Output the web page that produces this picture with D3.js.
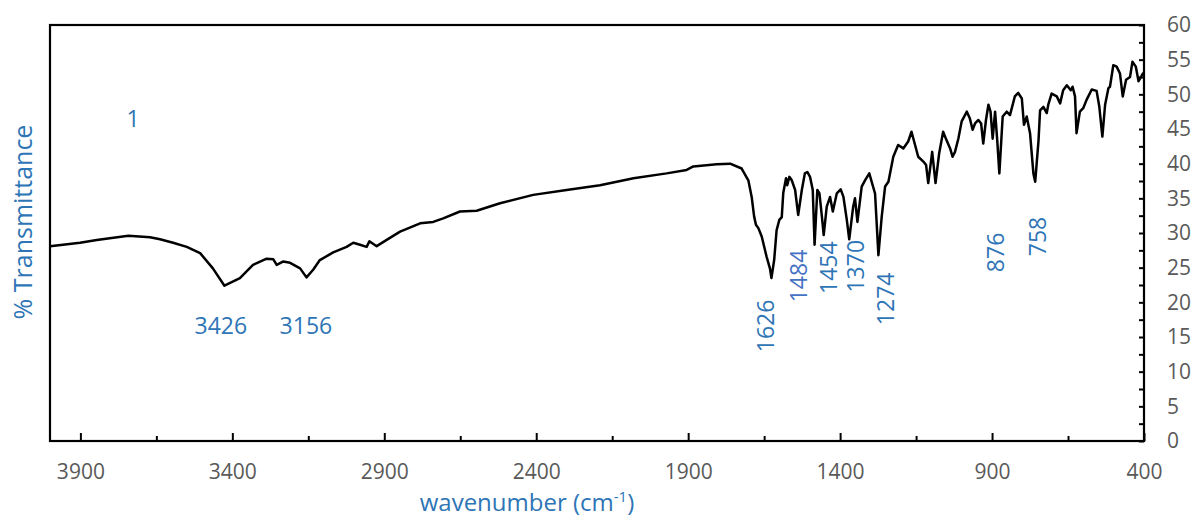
<!DOCTYPE html>
<html>
<head>
<meta charset="utf-8">
<script src="https://cdn.jsdelivr.net/npm/d3@7"></script>
<style>
  body { margin: 0; background: #fff; }
  text { font-family: "Open Sans", sans-serif; }
</style>
</head>
<body>
<script>
// traced IR spectrum (wavenumber in cm-1, % transmittance)
var wavenumber = [4000,3901,3846,3742,3671,3638,3595,3550,3506,3464,
  3426,3375,3332,3287,3265,3254,3232,3210,3177,3156,
  3134,3112,3068,3024,3002,2980,2958,2949,2925,2892,
  2848,2782,2739,2706,2651,2596,2519,2410,2300,2190,
  2080,1971,1905,1883,1806,1762,1724,1702,1691,1683,
  1677,1669,1658,1642,1631,1626,1617,1609,1600,1592,
  1587,1578,1574,1567,1559,1548,1538,1526,1516,1508,
  1499,1490,1484,1475,1468,1460,1454,1444,1433,1424,
  1411,1398,1389,1378,1370,1357,1351,1343,1329,1318,
  1304,1293,1285,1274,1263,1252,1241,1225,1209,1192,
  1176,1165,1143,1126,1117,1110,1097,1086,1074,1061,
  1050,1038,1030,1022,1011,1000,983,973,964,956,
  945,936,929,920,912,905,898,890,883,876,
  865,852,841,825,814,802,795,786,775,764,
  758,747,742,731,720,715,704,687,676,666,
  654,641,635,627,622,611,600,589,572,556,
  547,537,528,517,512,501,490,479,470,459,
  446,438,427,418,410,404,400];

var transmittance = [28.1,28.6,29.0,29.6,29.4,29.1,28.6,28.0,27.1,24.9,
  22.4,23.5,25.4,26.3,26.2,25.4,25.9,25.7,24.9,23.6,
  24.7,26.1,27.2,28.0,28.6,28.3,28.0,28.8,28.1,29.0,
  30.2,31.4,31.6,32.1,33.1,33.2,34.3,35.5,36.2,36.9,
  37.9,38.6,39.1,39.6,39.9,40.0,39.3,37.6,35.2,32.4,
  31.2,30.7,29.5,26.6,24.9,23.5,26.1,30.4,31.9,32.3,
  35.8,37.9,36.9,38.1,37.6,36.2,32.6,36.2,38.6,38.8,
  38.1,36.2,28.3,36.2,35.7,32.4,29.7,33.8,35.2,33.1,
  35.7,36.3,35.2,31.9,29.1,33.8,35.0,31.6,36.7,37.6,
  38.6,36.9,35.7,26.8,32.4,36.7,37.4,41.0,42.7,42.2,
  43.2,44.6,41.0,40.3,39.8,37.2,41.7,37.2,41.5,44.6,
  43.4,42.2,41.0,41.7,43.6,46.1,47.5,46.5,44.9,45.8,
  46.3,45.8,42.9,46.3,48.5,47.5,43.6,47.5,43.4,38.6,
  46.8,47.5,47.0,49.7,50.2,49.4,45.6,46.8,44.4,38.6,
  37.4,43.4,47.7,48.2,47.3,48.5,50.1,49.7,48.7,50.6,
  51.3,50.6,51.1,49.7,44.4,47.5,48.0,49.2,50.7,50.5,
  48.2,43.9,48.5,50.9,51.1,54.2,54.0,53.0,49.7,52.1,
  52.5,54.7,54.0,51.9,52.5,53.0,52.8];

var xTicks = [3900, 3400, 2900, 2400, 1900, 1400, 900, 400];
var xMinorTicks = [3650, 3150, 2650, 2150, 1650, 1150, 650];
var yTicks = [0, 5, 10, 15, 20, 25, 30, 35, 40, 45, 50, 55, 60];
var yMinorTicks = [2.5, 7.5, 12.5, 17.5, 22.5, 27.5, 32.5, 37.5, 42.5, 47.5, 52.5, 57.5];

// peak annotations: text, where the label sits (wavenumber, %T), rotated or not
var peakText = ["3426", "3156", "1626", "1484", "1454", "1370", "1274", "876", "758"];
var peakLabelWn = [3438, 3158, 1647, 1538, 1439, 1351, 1252, 890, 753];
var peakLabelT = [16.7, 16.7, 16.6, 23.8, 25.0, 25.2, 20.5, 27.2, 29.5];
var peakRotated = [false, false, true, true, true, true, true, true, true];

var W = 1197, H = 523;
var plotL = 50, plotR = 1144, plotT = 25, plotB = 441;
var blue = "#2E75B6", grey = "#595959";

var x = d3.scaleLinear().domain([4000, 400]).range([plotL, plotR]);
var y = d3.scaleLinear().domain([0, 60]).range([plotB, plotT]);

var svg = d3.select("body").append("svg")
    .attr("width", W)
    .attr("height", H);

// bottom axis, ticks pointing up into the plot
var xAxis = svg.append("g")
    .attr("transform", "translate(0," + plotB + ")")
    .call(d3.axisBottom(x).tickValues(xTicks).tickSize(-8).tickPadding(23).tickFormat(d3.format("d")));
svg.append("g")
    .attr("transform", "translate(0," + plotB + ")")
    .call(d3.axisBottom(x).tickValues(xMinorTicks).tickSize(-5).tickFormat(""));

// right axis, ticks pointing left
var yAxis = svg.append("g")
    .attr("transform", "translate(" + plotR + ",0)")
    .call(d3.axisRight(y).tickValues(yTicks).tickSize(-5).tickPadding(23).tickFormat(d3.format("d")));
svg.append("g")
    .attr("transform", "translate(" + plotR + ",0)")
    .call(d3.axisRight(y).tickValues(yMinorTicks).tickSize(-5).tickFormat(""));

svg.selectAll(".domain").remove();
svg.selectAll(".tick line").attr("stroke", "#000").attr("stroke-width", 2);
xAxis.selectAll("text").attr("fill", grey).style("font-size", "21px");
yAxis.selectAll("text").attr("fill", grey).style("font-size", "21px");

// frame
svg.append("rect")
    .attr("x", plotL)
    .attr("y", plotT)
    .attr("width", plotR - plotL)
    .attr("height", plotB - plotT)
    .attr("fill", "none")
    .attr("stroke", "#000")
    .attr("stroke-width", 2.2);

// spectrum
var line = d3.line()
    .x(function(d, i) { return x(wavenumber[i]); })
    .y(function(d) { return y(d); });

svg.append("path")
    .datum(transmittance)
    .attr("d", line)
    .attr("fill", "none")
    .attr("stroke", "#000")
    .attr("stroke-width", 2.5)
    .attr("stroke-linejoin", "round");

// peak labels
peakText.forEach(function(t, i) {
    var px = x(peakLabelWn[i]), py = y(peakLabelT[i]);
    svg.append("text")
        .attr("transform", "translate(" + px + "," + py + ")" + (peakRotated[i] ? " rotate(-90)" : ""))
        .attr("text-anchor", "middle")
        .attr("dominant-baseline", "central")
        .attr("fill", t == "1484" ? "#4472C4" : blue)
        .style("font-size", "23px")
        .text(t);
});

// sample number
svg.append("text")
    .attr("x", x(3727))
    .attr("y", y(46.6))
    .attr("text-anchor", "middle")
    .attr("dominant-baseline", "central")
    .attr("fill", blue)
    .style("font-size", "23px")
    .text("1");

// axis titles
var xt = svg.append("text")
    .attr("x", 527)
    .attr("y", 511)
    .attr("text-anchor", "middle")
    .attr("fill", blue)
    .style("font-size", "24px");
xt.append("tspan").text("wavenumber (cm");
xt.append("tspan").attr("dy", -9).style("font-size", "15px").text("-1");
xt.append("tspan").attr("dy", 9).text(")");

svg.append("text")
    .attr("transform", "translate(22,222) rotate(-90)")
    .attr("text-anchor", "middle")
    .attr("dominant-baseline", "central")
    .attr("fill", blue)
    .style("font-size", "25px")
    .text("% Transmittance");
</script>
</body>
</html>
